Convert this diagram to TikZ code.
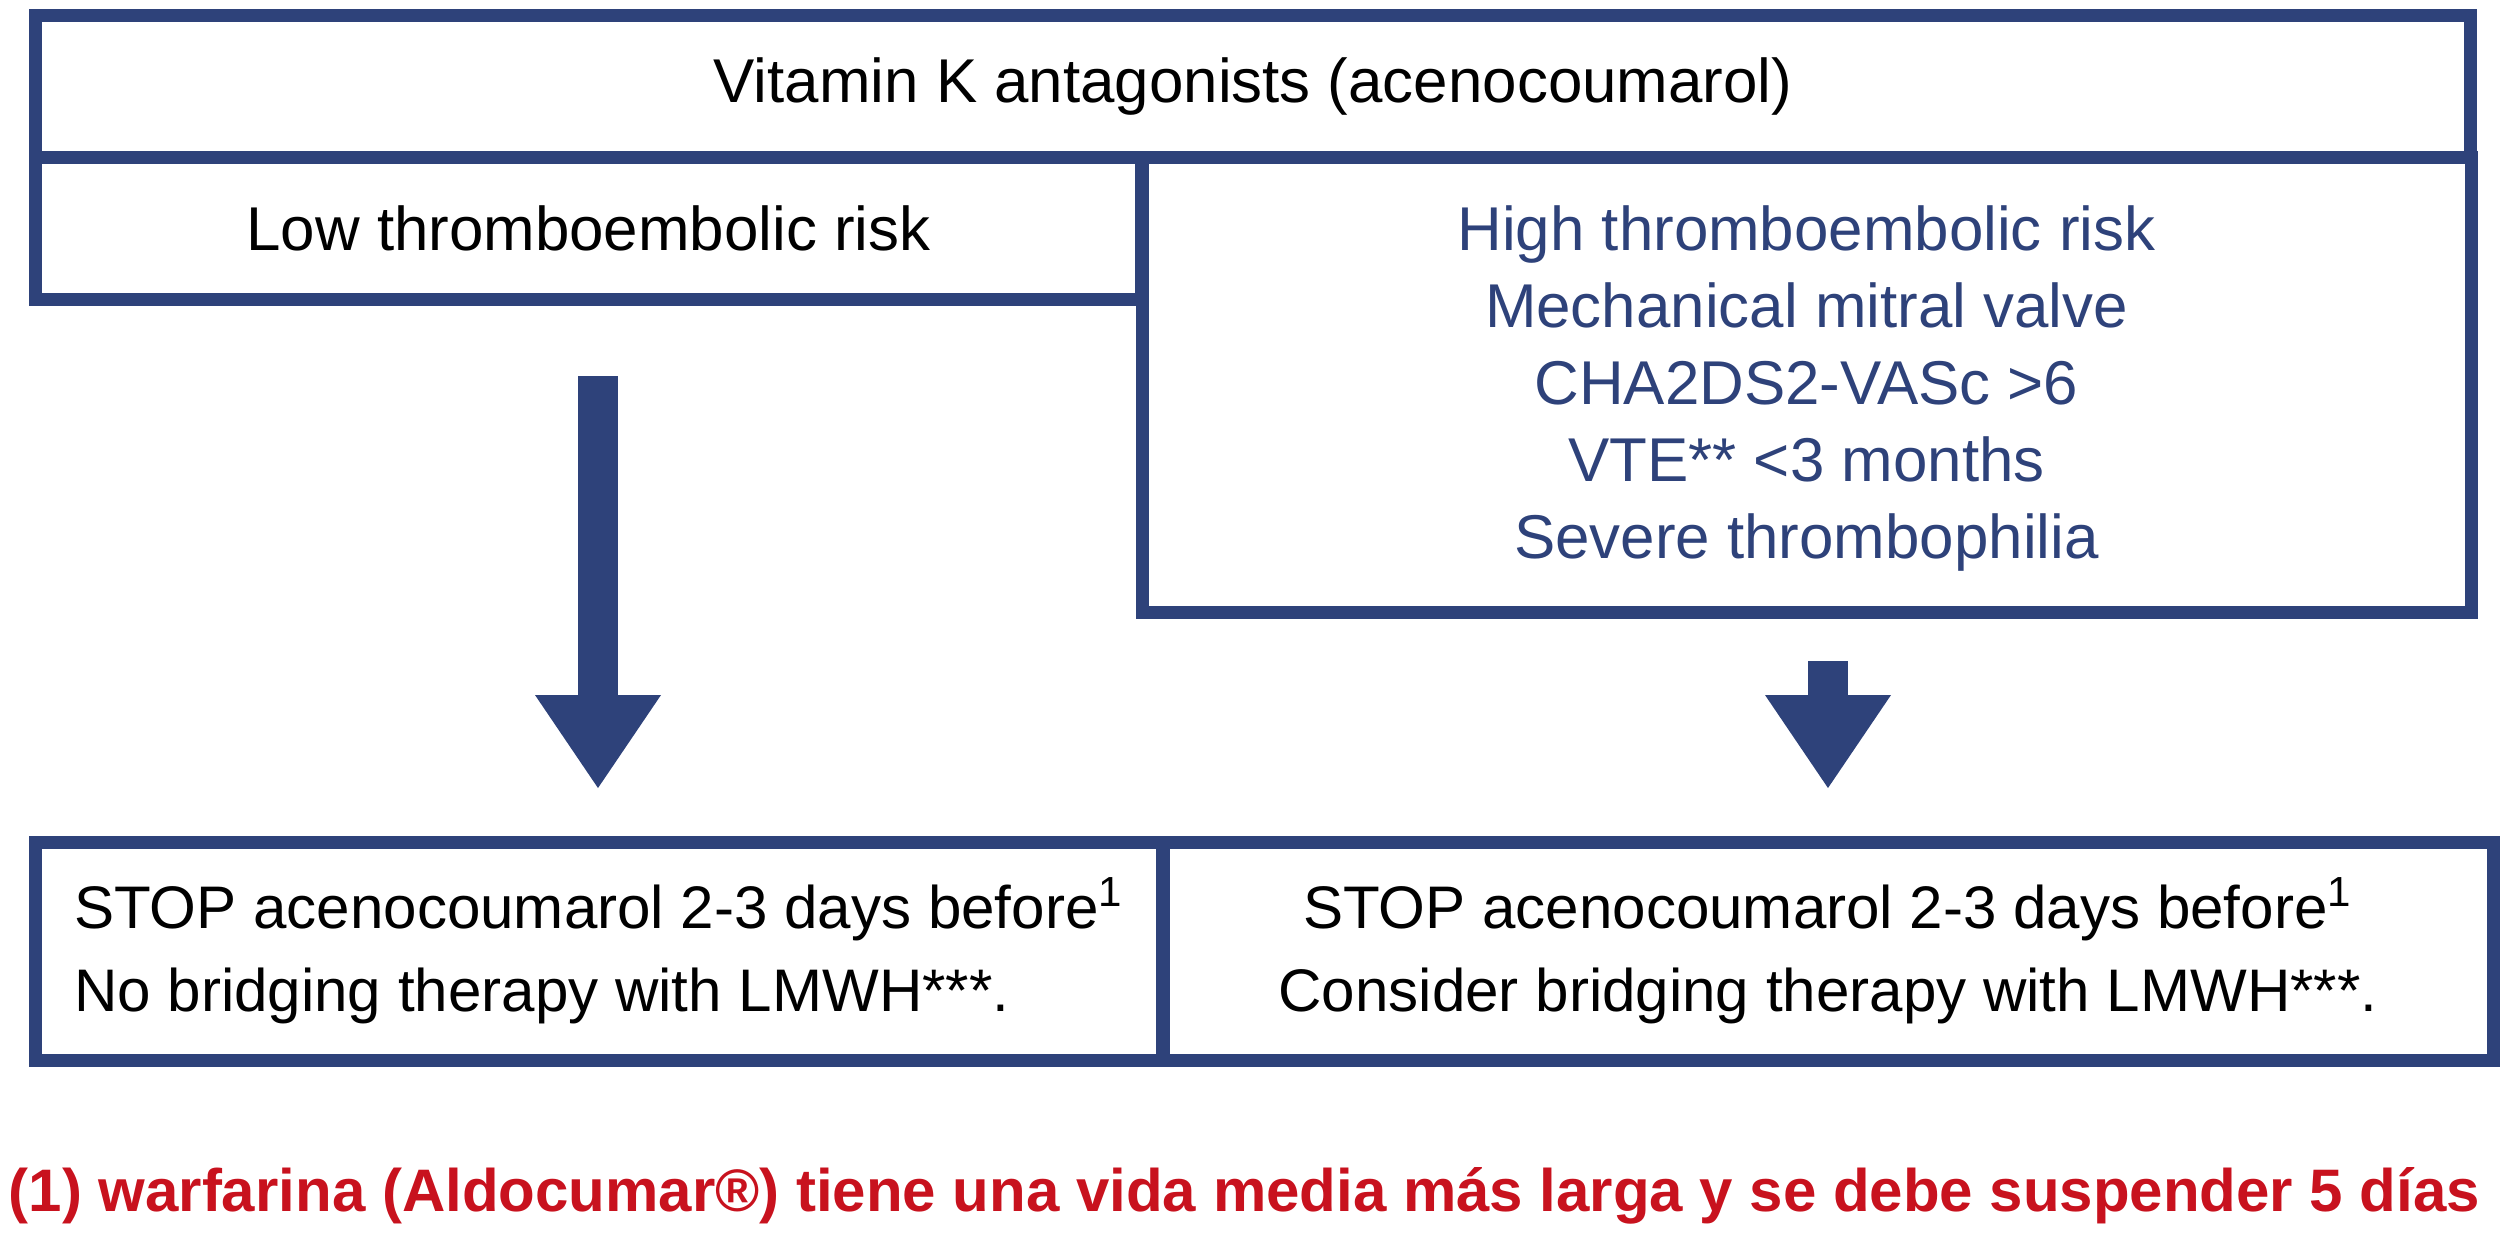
\documentclass[tikz,border=0pt]{standalone}
\usepackage{fontspec}
\setmainfont{Liberation Sans}
\usetikzlibrary{arrows.meta}
\definecolor{chartblue}{RGB}{46,66,122}
\definecolor{notered}{RGB}{200,18,30}

\begin{document}
\begin{tikzpicture}[
    x=0.1mm, y=-0.1mm,
    box/.style={draw=chartblue, line width=1.3mm, anchor=north west,
        inner sep=0pt, outer sep=0pt, font=\fontsize{17.6}{21.9}\selectfont},
    stopbox/.style={box, minimum height=21.8mm,
        font=\fontsize{17.1}{23.6}\selectfont},
    bigarrow/.style={chartblue, line width=4mm,
        -{Triangle[length=9.3mm, width=12.6mm, line width=0pt]}}
]
    \useasboundingbox (0, 0) rectangle (2508, 1233);

    \node[box, minimum width=243.6mm, minimum height=14.15mm] (vka) at (35, 15.5)
        {Vitamin K antagonists (acenocoumarol)};
    \node[box, minimum width=110.7mm, minimum height=14.2mm] (lowrisk) at (35, 157)
        {Low thromboembolic risk};
    \node[box, minimum width=132.9mm, minimum height=45.5mm, align=center,
        text=chartblue] (highrisk) at (1142, 157)
        {\rule{0pt}{5.2mm}High thromboembolic risk\\
         Mechanical mitral valve\\
         CHA2DS2-VASc >6\\
         VTE** <3 months\\
         Severe thrombophilia};

    \node[stopbox, minimum width=112.8mm, align=left] (stoplow) at (35, 842)
        {STOP acenocoumarol 2-3 days before\textsuperscript{1}\\
         No bridging therapy with LMWH***.};
    \node[stopbox, minimum width=133mm, align=center] (stophigh) at (1163, 842)
        {STOP acenocoumarol 2-3 days before\textsuperscript{1}\\
         Consider bridging therapy with LMWH***.};

    \coordinate (lowfrom) at (598, 376);
    \coordinate (lowto) at (598, 788);
    \coordinate (highfrom) at (1828, 661);
    \coordinate (highto) at (1828, 788);
    \foreach \a/\b in {lowfrom/lowto, highfrom/highto}
        \draw[bigarrow] (\a) -- (\b);

    \node[anchor=base west, inner sep=0pt, text=notered,
        font=\bfseries\fontsize{17.07}{20}\selectfont] (note) at (8, 1211)
        {(1) warfarina (Aldocumar®) tiene una vida media más larga y se debe suspender 5 días};
\end{tikzpicture}
\end{document}
